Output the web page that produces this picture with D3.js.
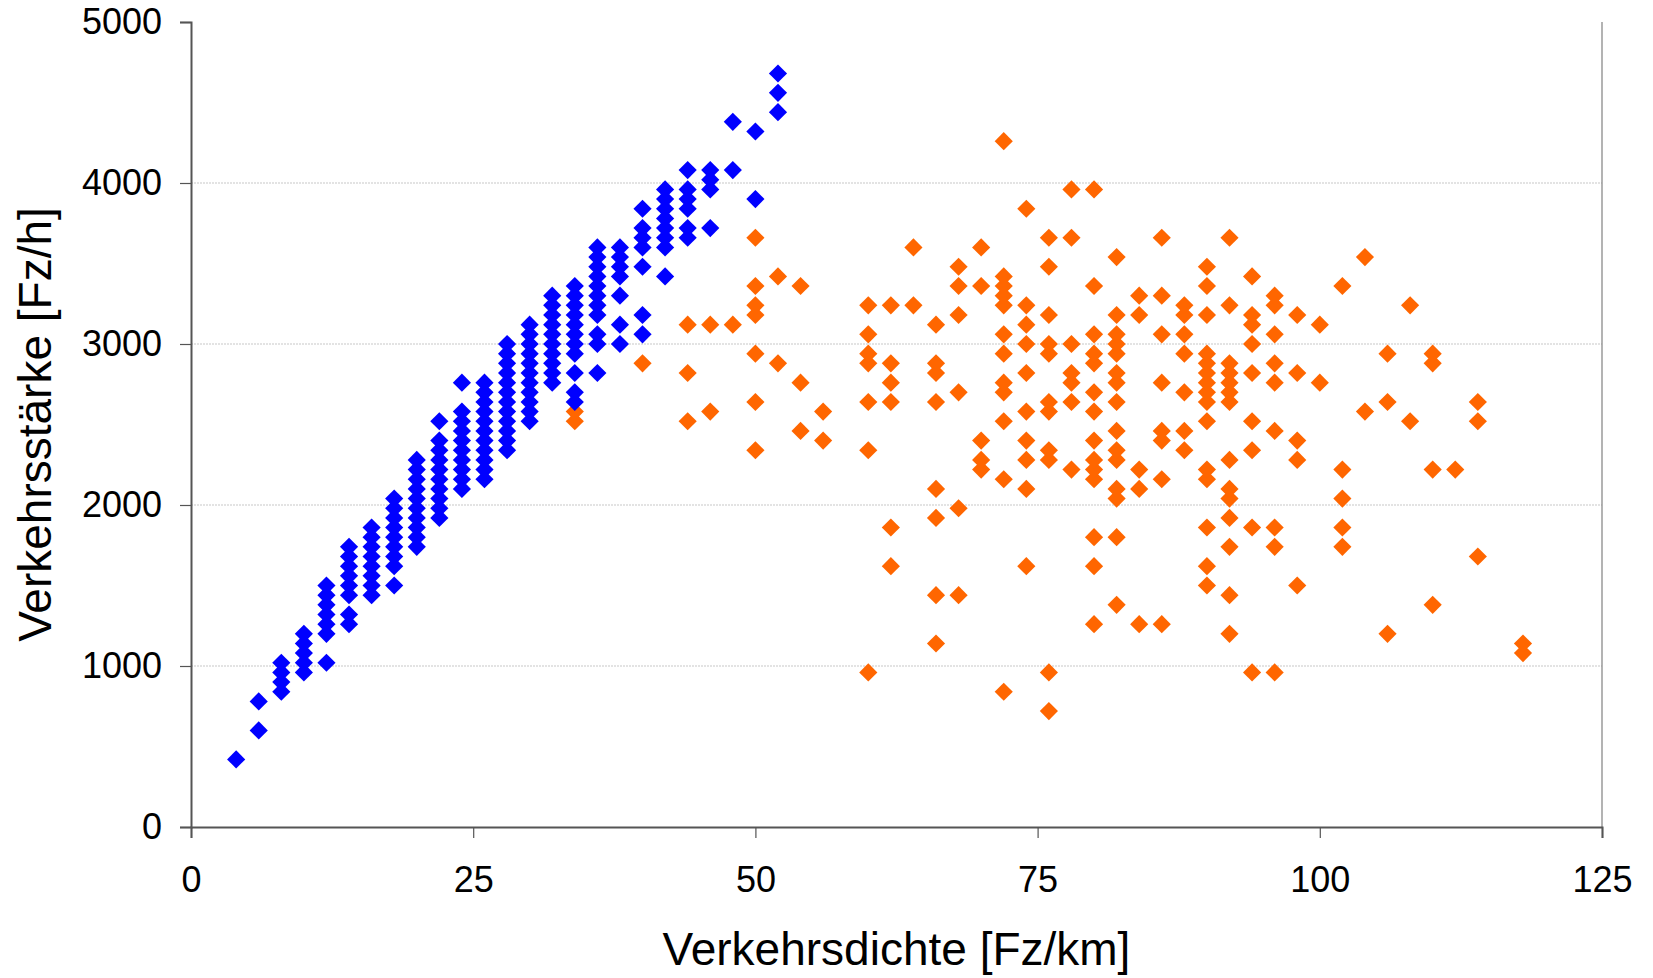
<!DOCTYPE html>
<html>
<head>
<meta charset="utf-8">
<script src="https://cdnjs.cloudflare.com/ajax/libs/d3/7.8.5/d3.min.js"></script>
<style>
  body { margin: 0; background: #fff; }
  #chart text { font-family: "Liberation Sans", Arial, sans-serif; fill: #000; }
</style>
</head>
<body>
<div id="chart"></div>
<script>
// Verkehrsdichte [Fz/km] -> Verkehrsstärke [Fz/h], one entry per density column
var freeFlow = [
  [4, [420]],
  [6, [600, 780]],
  [8, [840, 900, 960, 1020]],
  [10, [960, 1020, 1080, 1140, 1200]],
  [12, [1020, 1200, 1260, 1320, 1380, 1440, 1500]],
  [14, [1260, 1320, 1440, 1500, 1560, 1620, 1680, 1740]],
  [16, [1440, 1500, 1560, 1620, 1680, 1740, 1800, 1860]],
  [18, [1500, 1620, 1680, 1740, 1800, 1860, 1920, 1980, 2040]],
  [20, [1740, 1800, 1860, 1920, 1980, 2040, 2100, 2160, 2220, 2280]],
  [22, [1920, 1980, 2040, 2100, 2160, 2220, 2280, 2340, 2400, 2520]],
  [24, [2100, 2160, 2220, 2280, 2340, 2400, 2460, 2520, 2580, 2760]],
  [26, [2160, 2220, 2280, 2340, 2400, 2460, 2520, 2580, 2640, 2700, 2760]],
  [28, [2340, 2400, 2460, 2520, 2580, 2640, 2700, 2760, 2820, 2880, 2940, 3000]],
  [30, [2520, 2580, 2640, 2700, 2760, 2820, 2880, 2940, 3000, 3060, 3120]],
  [32, [2760, 2820, 2880, 2940, 3000, 3060, 3120, 3180, 3240, 3300]],
  [34, [2640, 2700, 2820, 2940, 3000, 3060, 3120, 3180, 3240, 3300, 3360]],
  [36, [2820, 3000, 3060, 3180, 3240, 3300, 3360, 3420, 3480, 3540, 3600]],
  [38, [3000, 3120, 3300, 3420, 3480, 3540, 3600]],
  [40, [3060, 3180, 3480, 3600, 3660, 3720, 3840]],
  [42, [3420, 3600, 3660, 3720, 3780, 3840, 3900, 3960]],
  [44, [3660, 3720, 3840, 3900, 3960, 4080]],
  [46, [3720, 3960, 4020, 4080]],
  [48, [4080, 4380]],
  [50, [3900, 4320]],
  [52, [4440, 4560, 4680]]
];

var congested = [
  [34, [2520, 2580]],
  [40, [2880]],
  [44, [2520, 2820, 3120]],
  [46, [2580, 3120]],
  [48, [3120]],
  [50, [2340, 2640, 2940, 3180, 3240, 3360, 3660]],
  [52, [2880, 3420]],
  [54, [2460, 2760, 3360]],
  [56, [2400, 2580]],
  [60, [960, 2340, 2640, 2880, 2940, 3060, 3240]],
  [62, [1620, 1860, 2640, 2760, 2880, 3240]],
  [64, [3240, 3600]],
  [66, [1140, 1440, 1920, 2100, 2640, 2820, 2880, 3120]],
  [68, [1440, 1980, 2700, 3180, 3360, 3480]],
  [70, [2220, 2280, 2400, 3360, 3600]],
  [72, [840, 2160, 2520, 2700, 2760, 2940, 3060, 3240, 3300, 3360, 3420, 4260]],
  [74, [1620, 2100, 2280, 2400, 2580, 2820, 3000, 3120, 3240, 3840]],
  [76, [720, 960, 2280, 2340, 2580, 2640, 2940, 3000, 3180, 3480, 3660]],
  [78, [2220, 2640, 2760, 2820, 3000, 3660, 3960]],
  [80, [1260, 1620, 1800, 2160, 2220, 2280, 2400, 2580, 2700, 2880, 2940, 3060, 3360, 3960]],
  [82, [1380, 1800, 2040, 2100, 2280, 2340, 2460, 2640, 2760, 2820, 2940, 3000, 3060, 3180, 3540]],
  [84, [1260, 2100, 2220, 3180, 3300]],
  [86, [1260, 2160, 2400, 2460, 2760, 3060, 3300, 3660]],
  [88, [2340, 2460, 2700, 2940, 3060, 3180, 3240]],
  [90, [1500, 1620, 1860, 2160, 2220, 2520, 2640, 2700, 2760, 2820, 2880, 2940, 3180, 3360, 3480]],
  [92, [1200, 1440, 1740, 1920, 2040, 2100, 2280, 2640, 2700, 2760, 2820, 2880, 3240, 3660]],
  [94, [960, 1860, 2340, 2520, 2820, 3000, 3120, 3180, 3420]],
  [96, [960, 1740, 1860, 2460, 2760, 2880, 3060, 3240, 3300]],
  [98, [1500, 2280, 2400, 2820, 3180]],
  [100, [2760, 3120]],
  [102, [1740, 1860, 2040, 2220, 3360]],
  [104, [2580, 3540]],
  [106, [1200, 2640, 2940]],
  [108, [2520, 3240]],
  [110, [1380, 2220, 2880, 2940]],
  [112, [2220]],
  [114, [1680, 2520, 2640]],
  [118, [1080, 1140]]
];

var xTicks = [0, 25, 50, 75, 100, 125];
var yTicks = [0, 1000, 2000, 3000, 4000, 5000];
var yGrid = [1000, 2000, 3000, 4000];

var w = 1653,
    h = 978;

var svg = d3.select("#chart")
    .append("svg")
    .attr("width", w)
    .attr("height", h);

var x = d3.scaleLinear().domain([0, 125]).range([191, 1602]);
var y = d3.scaleLinear().domain([0, 5000]).range([827, 22]);

// flatten the columns into points
var flat = function(cols) {
  var out = [];
  cols.forEach(function(c) {
    c[1].forEach(function(v) { out.push({ d: c[0], q: v }); });
  });
  return out;
};

// gridlines
svg.append("g")
  .selectAll("line")
  .data(yGrid)
  .enter().append("line")
  .attr("x1", x(0))
  .attr("x2", x(125))
  .attr("y1", function(d) { return y(d); })
  .attr("y2", function(d) { return y(d); })
  .style("stroke", "#c8c8c8")
  .style("stroke-width", 1.2)
  .style("stroke-dasharray", "2,1");

// right border
svg.append("line")
  .attr("x1", x(125)).attr("x2", x(125))
  .attr("y1", y(0)).attr("y2", y(5000))
  .style("stroke", "#808080")
  .style("stroke-width", 1.2);

var diamond = d3.symbol().type(d3.symbolSquare).size(165);

var series = [
  { data: flat(congested), color: "#ff6600" },
  { data: flat(freeFlow), color: "#0000ff" }
];

series.forEach(function(s) {
  svg.append("g")
    .selectAll("path")
    .data(s.data)
    .enter().append("path")
    .attr("d", diamond)
    .attr("transform", function(d) {
      return "translate(" + x(d.d) + "," + y(d.q) + ") rotate(45)";
    })
    .style("fill", s.color);
});

var xAxis = d3.axisBottom(x).tickValues(xTicks).tickSize(11).tickPadding(28).tickFormat(d3.format("d"));
var yAxis = d3.axisLeft(y).tickValues(yTicks).tickSize(11).tickPadding(18).tickFormat(d3.format("d"));

var gx = svg.append("g")
  .attr("class", "axis axis--x")
  .attr("transform", "translate(0," + y(0) + ")")
  .call(xAxis);

var gy = svg.append("g")
  .attr("class", "axis axis--y")
  .attr("transform", "translate(" + x(0) + ",0)")
  .call(yAxis);

[gx, gy].forEach(function(g) {
  g.select(".domain").style("stroke", "#555").style("stroke-width", 2);
  g.selectAll(".tick line").style("stroke", "#555").style("stroke-width", 1.2);
  g.selectAll(".tick text")
    .style("font-size", "36px")
    .style("font-family", "'Liberation Sans', Arial, sans-serif")
    .style("fill", "#000");
});

svg.append("text")
  .attr("x", (x(0) + x(125)) / 2)
  .attr("y", 965)
  .attr("text-anchor", "middle")
  .style("font-size", "46px")
  .text("Verkehrsdichte [Fz/km]");

svg.append("text")
  .attr("transform", "translate(51," + (y(0) + y(5000)) / 2 + ") rotate(-90)")
  .attr("text-anchor", "middle")
  .style("font-size", "46px")
  .text("Verkehrsstärke [Fz/h]");
</script>
</body>
</html>
